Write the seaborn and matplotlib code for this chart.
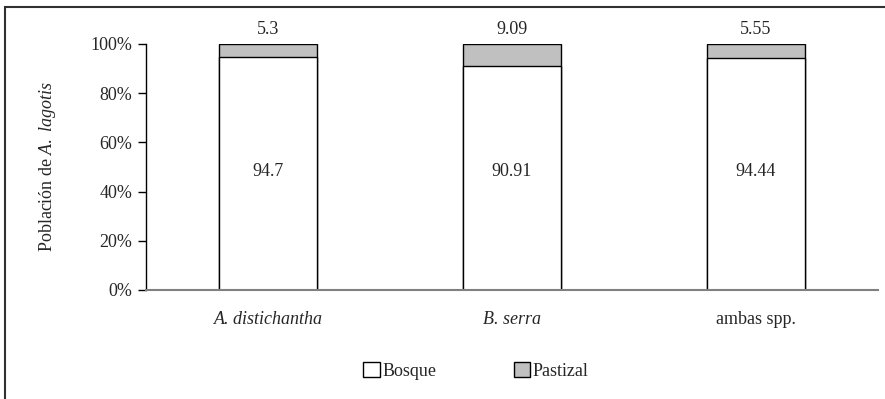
import matplotlib
matplotlib.use("Agg")
import matplotlib.pyplot as plt
import seaborn as sns
import pandas as pd
from matplotlib.patches import Patch, Rectangle
from matplotlib.ticker import FuncFormatter

categories = ["A. distichantha", "B. serra", "ambas spp."]
bosque = [94.7, 90.91, 94.44]
pastizal = [5.3, 9.09, 5.55]
series_names = ["Bosque", "Pastizal"]
colors = {"Bosque": "#ffffff", "Pastizal": "#c0c0c0"}

sns.set_style("white")
plt.rcParams["font.family"] = ["Liberation Serif", "DejaVu Serif"]
plt.rcParams["mathtext.fontset"] = "custom"
plt.rcParams["mathtext.rm"] = "Liberation Serif"
plt.rcParams["mathtext.it"] = "Liberation Serif:italic"
FS = 13

df = pd.DataFrame({"cat": categories, "Bosque": bosque, "Pastizal": pastizal})
df["total"] = df["Bosque"] + df["Pastizal"]

fig = plt.figure(figsize=(8.85, 3.99), dpi=100)
ax = fig.add_axes([146/885, 1-290/399, (878-146)/885, (290-44)/399])

sns.barplot(data=df, x="cat", y="total", color=colors["Pastizal"], width=0.4,
            edgecolor="black", linewidth=1.0, ax=ax, saturation=1)
sns.barplot(data=df, x="cat", y="Bosque", color=colors["Bosque"], width=0.4,
            edgecolor="black", linewidth=1.0, ax=ax, saturation=1)

for i in range(len(categories)):
    ax.text(i, 48, f"{bosque[i]:g}", ha="center", va="center", fontsize=FS)
    ax.text(i, bosque[i] + pastizal[i] + 2.5, f"{pastizal[i]:g}", ha="center", va="bottom", fontsize=FS)

ax.set_xlim(-0.5, 2.5)
ax.set_ylim(0, 100)
ax.set_yticks(range(0, 101, 20))
ax.yaxis.set_major_formatter(FuncFormatter(lambda v, p: f"{v:.0f}%"))
ax.set_xticks(range(3))
ax.set_xticklabels(categories)
for lbl, st in zip(ax.get_xticklabels(), ["italic", "italic", "normal"]):
    lbl.set_fontstyle(st)
ax.set_xticks([-0.5, 0.5, 1.5, 2.5], minor=True)
ax.tick_params(axis="x", which="major", length=0, pad=15, labelsize=FS)
ax.tick_params(axis="x", which="minor", length=6, width=1, color="black", direction="out")
ax.tick_params(axis="y", length=6, width=1, color="black", direction="out", left=True, labelsize=FS, pad=4)
ax.set_xlabel("")
ax.set_ylabel(r"Población de$\mathit{\ A.\ lagotis}$", fontsize=FS, labelpad=23)

sns.despine(ax=ax, top=True, right=True)
ax.spines["left"].set_color("black")
ax.spines["left"].set_linewidth(1.0)
ax.spines["bottom"].set_color("#808080")
ax.spines["bottom"].set_linewidth(1.5)

handles = [Patch(facecolor=colors[s], edgecolor="black", linewidth=1.0, label=s) for s in series_names]
fig.legend(handles=handles, loc="center", bbox_to_anchor=(476/885, 1-371/399), ncol=2,
           frameon=False, fontsize=FS, handlelength=0.9, handleheight=0.9,
           handletextpad=0.15, columnspacing=4.3)

fig.patches.append(Rectangle((5/885, -0.1), 1.2, 1 - 7/399 + 0.1, transform=fig.transFigure,
                             fill=False, edgecolor="#303030", linewidth=1.5))

fig.savefig("out.png", dpi=100)
